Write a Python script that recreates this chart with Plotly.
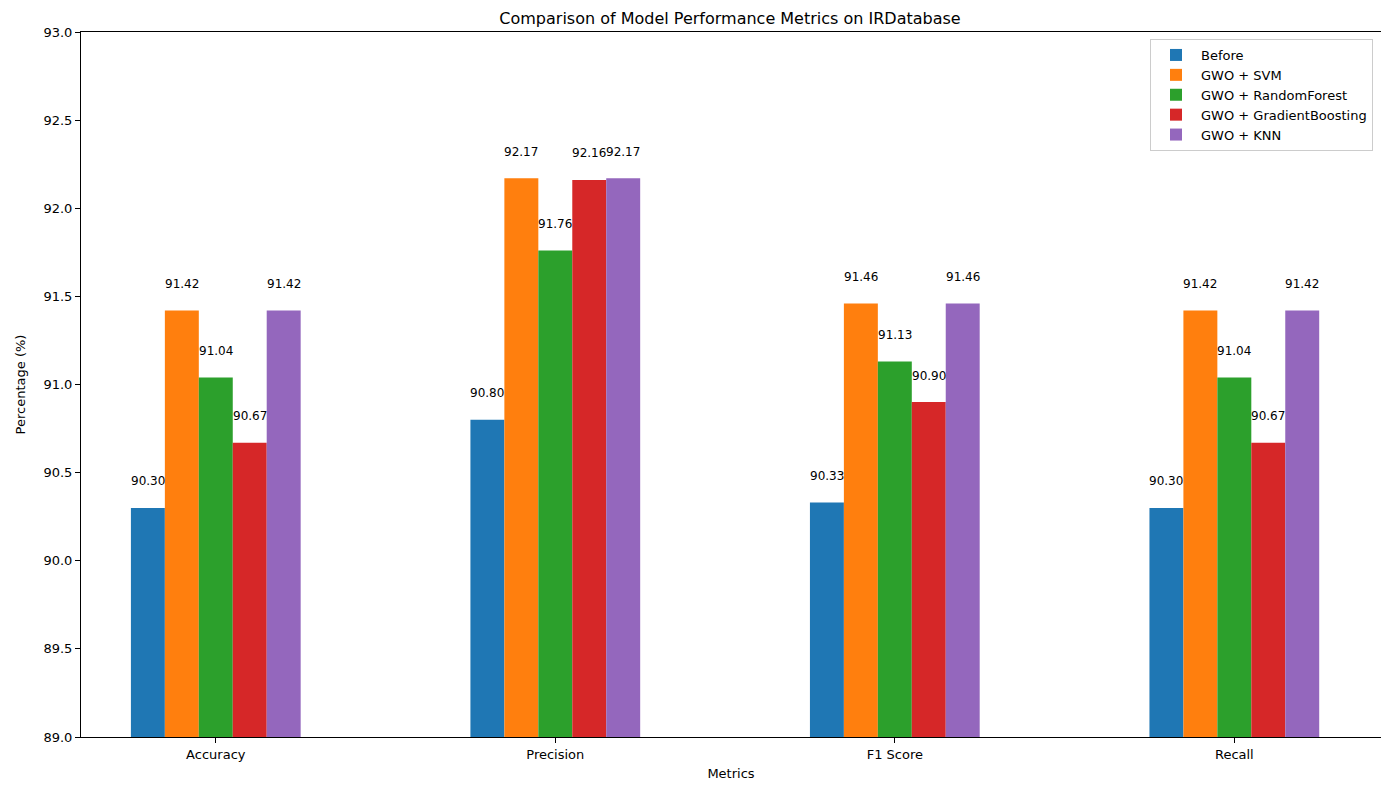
import plotly.graph_objects as go

metrics = ['Accuracy', 'Precision', 'F1 Score', 'Recall']
models = ['Before', 'GWO + SVM', 'GWO + RandomForest', 'GWO + GradientBoosting', 'GWO + KNN']
before = [90.30, 90.80, 90.33, 90.30]
gwo_svm = [91.42, 92.17, 91.46, 91.42]
gwo_rf = [91.04, 91.76, 91.13, 91.04]
gwo_gb = [90.67, 92.16, 90.90, 90.67]
gwo_knn = [91.42, 92.17, 91.46, 91.42]
colors = ['#1f77b4', '#ff7f0e', '#2ca02c', '#d62728', '#9467bd']

series = [before, gwo_svm, gwo_rf, gwo_gb, gwo_knn]
width = 0.1
font = 'DejaVu Sans'

# page body has an 8px margin, so figure coords are shifted by 8
fig = go.Figure()
annotations = []
for k, (name, vals) in enumerate(zip(models, series)):
    xs = [i + (k - 2) * width for i in range(len(metrics))]
    fig.add_trace(go.Bar(
        x=xs, y=[v - 89 for v in vals], base=89, name=name, width=width,
        marker=dict(color=colors[k], line=dict(width=0)),
        hovertext=['%.2f' % v for v in vals], hoverinfo='text',
    ))
    for x, v in zip(xs, vals):
        annotations.append(dict(
            x=x, y=v + 0.1, text='%.2f' % v, showarrow=False,
            xanchor='center', yanchor='bottom',
            font=dict(family=font, size=12, color='black'),
        ))

fig.update_layout(
    width=1389, height=790,
    margin=dict(l=71, r=16, t=24, b=61),
    plot_bgcolor='white', paper_bgcolor='white',
    font=dict(family=font, size=13, color='black'),
    title=dict(text='Comparison of Model Performance Metrics on IRDatabase',
               x=722 / 1389, xanchor='center', y=1 - 10 / 790, yanchor='middle',
               font=dict(size=16, family=font)),
    barmode='overlay',
    annotations=annotations,
    legend=dict(x=1 - 8 / 1302, y=1 - 7 / 705, xanchor='right', yanchor='top',
                bordercolor='#cccccc', borderwidth=1, bgcolor='rgba(255,255,255,0.8)',
                font=dict(size=13, family=font), tracegroupgap=0, itemwidth=40),
    xaxis=dict(range=[-0.397, 3.432], tickvals=list(range(len(metrics))), ticktext=metrics,
               showgrid=False, zeroline=False, showline=True, linecolor='black', linewidth=1,
               mirror=True, ticks='outside', ticklen=5, tickcolor='black',
               title=dict(text='Metrics', font=dict(size=13), standoff=8)),
    yaxis=dict(range=[89, 93], tickvals=[89 + 0.5 * i for i in range(9)],
               ticktext=['%.1f' % (89 + 0.5 * i) for i in range(9)],
               showgrid=False, zeroline=False, showline=True, linecolor='black', linewidth=1,
               mirror=True, ticks='outside', ticklen=5, tickcolor='black',
               title=dict(text='Percentage (%)', font=dict(size=13), standoff=14)),
)

fig.write_html('out.html')
